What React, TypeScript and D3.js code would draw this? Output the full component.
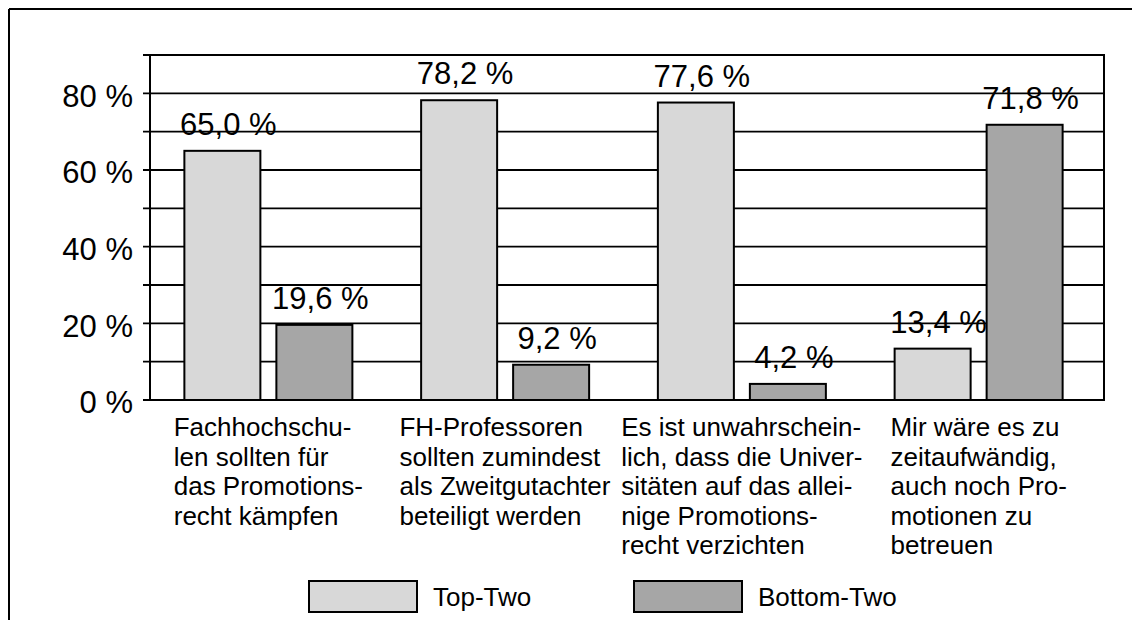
import React, { useRef, useEffect } from 'react';
import * as d3 from 'd3';

const categories = ['promotionsrecht', 'zweitgutachter', 'unwahrscheinlich', 'zeitaufwand'];
const categoryLines = [
  ['Fachhochschu-', 'len sollten für', 'das Promotions-', 'recht kämpfen'],
  ['FH-Professoren', 'sollten zumindest', 'als Zweitgutachter', 'beteiligt werden'],
  ['Es ist unwahrschein-', 'lich, dass die Univer-', 'sitäten auf das allei-', 'nige Promotions-', 'recht verzichten'],
  ['Mir wäre es zu', 'zeitaufwändig,', 'auch noch Pro-', 'motionen zu', 'betreuen'],
];
const seriesNames = ['Top-Two', 'Bottom-Two'];
const topTwo = [65.0, 78.2, 77.6, 13.4];
const bottomTwo = [19.6, 9.2, 4.2, 71.8];
const yTicks = [0, 20, 40, 60, 80];
const gridValues = [0, 10, 20, 30, 40, 50, 60, 70, 80, 90];

const colors = ['#d8d8d8', '#a6a6a6'];
const FONT = '"Liberation Sans", Arial, Helvetica, sans-serif';

const W = 1132;
const H = 620;
const plot = { left: 150, right: 1104, top: 55, bottom: 400 };

const fmt = (v: number) => v.toFixed(1).replace('.', ',') + ' %';

export default function App() {
  const svgRef = useRef<SVGSVGElement>(null);

  useEffect(() => {
    if (!svgRef.current) return;
    const svg = d3.select(svgRef.current);
    svg.selectAll('*').remove();

    const y = d3.scaleLinear().domain([0, 90]).range([plot.bottom, plot.top]);
    const x0 = d3.scaleBand<string>().domain(categories).range([plot.left, 1097]).paddingOuter(0).paddingInner(0);
    const x1 = d3
      .scaleBand<string>()
      .domain(seriesNames)
      .range([0, 168])
      .paddingInner(16 / 92);
    const groupOffset = (x0.bandwidth() - 168) / 2;

    // outer frame (top + left only)
    svg.append('line').attr('x1', 9).attr('y1', 9).attr('x2', W).attr('y2', 9).attr('stroke', '#000').attr('stroke-width', 2);
    svg.append('line').attr('x1', 9).attr('y1', 9).attr('x2', 9).attr('y2', H).attr('stroke', '#000').attr('stroke-width', 2);

    // gridlines with small outer ticks
    svg
      .append('g')
      .selectAll('line')
      .data(gridValues)
      .enter()
      .append('line')
      .attr('x1', plot.left - 7)
      .attr('x2', plot.right)
      .attr('y1', (d) => y(d))
      .attr('y2', (d) => y(d))
      .attr('stroke', '#000')
      .attr('stroke-width', 1.8);

    // y tick labels
    svg
      .append('g')
      .selectAll('text')
      .data(yTicks)
      .enter()
      .append('text')
      .attr('x', 133)
      .attr('y', (d) => y(d))
      .attr('dy', '0.43em')
      .attr('text-anchor', 'end')
      .style('font-family', FONT)
      .style('font-size', '31px')
      .text((d) => `${d} %`);

    // bars
    const series = [topTwo, bottomTwo];
    series.forEach((vals, si) => {
      const g = svg.append('g');
      g.selectAll('rect')
        .data(vals)
        .enter()
        .append('rect')
        .attr('x', (_, i) => (x0(categories[i]) as number) + groupOffset + (x1(seriesNames[si]) as number))
        .attr('y', (d) => y(d))
        .attr('width', x1.bandwidth())
        .attr('height', (d) => plot.bottom - y(d))
        .attr('fill', colors[si])
        .attr('stroke', '#000')
        .attr('stroke-width', 2);

      g.selectAll('text')
        .data(vals)
        .enter()
        .append('text')
        .attr('x', (_, i) => (x0(categories[i]) as number) + groupOffset + (x1(seriesNames[si]) as number) + x1.bandwidth() / 2 + 6)
        .attr('y', (d) => y(d) - 16)
        .attr('text-anchor', 'middle')
        .style('font-family', FONT)
        .style('font-size', '31px')
        .text((d) => fmt(d));
    });

    // plot frame
    svg
      .append('rect')
      .attr('x', plot.left)
      .attr('y', plot.top)
      .attr('width', plot.right - plot.left)
      .attr('height', plot.bottom - plot.top)
      .attr('fill', 'none')
      .attr('stroke', '#000')
      .attr('stroke-width', 2);

    // category labels: left-aligned lines, block centred on band
    categories.forEach((c, i) => {
      const t = svg
        .append('text')
        .style('font-family', FONT)
        .style('font-size', '26px');
      categoryLines[i].forEach((line, li) => {
        t.append('tspan').attr('x', 0).attr('y', 436 + li * 29.5).text(line);
      });
      const node = t.node() as SVGTextElement;
      const bw = node.getBBox().width;
      const cx = (x0(c) as number) + x0.bandwidth() / 2;
      t.attr('transform', `translate(${cx - bw / 2},0)`);
    });

    // legend
    const legend = svg.append('g');
    seriesNames.forEach((name, i) => {
      const lx = 309 + i * 325;
      legend
        .append('rect')
        .attr('x', lx)
        .attr('y', 581)
        .attr('width', 108)
        .attr('height', 31)
        .attr('fill', colors[i])
        .attr('stroke', '#000')
        .attr('stroke-width', 2);
      legend
        .append('text')
        .attr('x', lx + 124)
        .attr('y', 596.5)
        .attr('dy', '0.36em')
        .style('font-family', FONT)
        .style('font-size', '26px')
        .text(name);
    });
  }, []);

  return (
    <svg
      ref={svgRef}
      width={W}
      height={H}
      style={{ position: 'absolute', left: 0, top: 0, background: '#fff' }}
    />
  );
}
